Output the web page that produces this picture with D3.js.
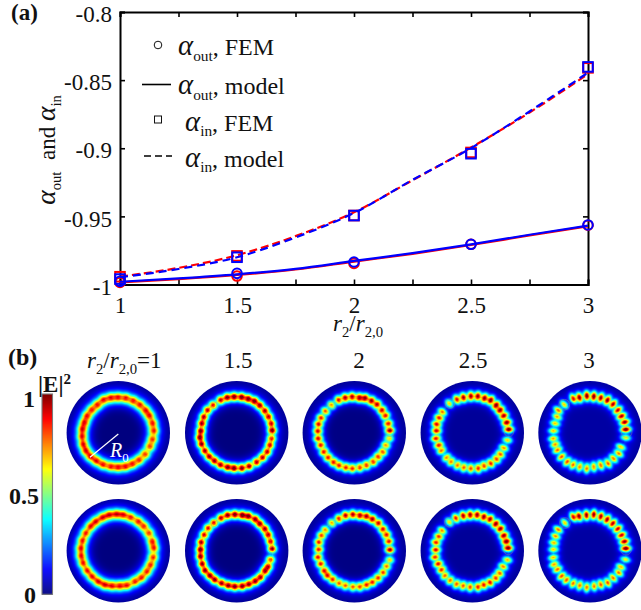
<!DOCTYPE html>
<html>
<head>
<meta charset="utf-8">
<script src="https://cdn.jsdelivr.net/npm/d3@7"></script>
<style>
body { margin: 0; background: #fff; }
svg { display: block; font-family: "Liberation Serif", serif; }
</style>
</head>
<body>
<script>
// panel (a) values
var rModel = [1, 1.25, 1.5, 1.75, 2, 2.25, 2.5, 2.75, 3];
var rFem = [1, 1.5, 2, 2.5, 3];
var outModelRed = [-0.9984, -0.996, -0.993, -0.989, -0.9832, -0.9775, -0.971, -0.964, -0.9572];
var outModelBlue = [-0.998, -0.9955, -0.9925, -0.9885, -0.9827, -0.977, -0.9705, -0.9635, -0.9568];
var inModelRed = [-0.9942, -0.9878, -0.9785, -0.9645, -0.947, -0.9235, -0.8995, -0.8738, -0.8455];
var inModelBlue = [-0.9947, -0.9886, -0.98, -0.9655, -0.9475, -0.9232, -0.8999, -0.873, -0.8445];
var outFemRed = [-0.9985, -0.9938, -0.9845, -0.9705, -0.9565];
var outFemBlue = [-0.9977, -0.9918, -0.9835, -0.9705, -0.9563];
var inFemRed = [-0.9943, -0.979, -0.9494, -0.9031, -0.841];
var inFemBlue = [-0.996, -0.98, -0.9494, -0.904, -0.8403];
var xTickValues = [1, 1.25, 1.5, 1.75, 2, 2.25, 2.5, 2.75, 3];
var xTickLabels = {1: "1", 1.5: "1.5", 2: "2", 2.5: "2.5", 3: "3"};
var yTickValues = [-1, -0.95, -0.9, -0.85, -0.8];
var yTickLabels = ["-1", "-0.95", "-0.9", "-0.85", "-0.8"];

// panel (b) values: bright spots of each |E|^2 map as [x, y, peak], in the map's own units
var columnTitles = ["1.5", "2", "2.5", "3"];
var barTicks = [0, 0.5, 1];
var mapCentreX = [355, 170, 523, 187, 540];
var mapCentreYTop = [250, 247, 247, 247, 247];
var mapCentreYBottom = [212, 210, 210, 212, 213];

var spotsTop1 = [[333,146,1],[355,145,1],[378,147,1],[400,155,1],[420,167,1],[437,183,.98],[449,200,.98],[458,222,1],[462,245,1],[458,270,.98],[450,292,.98],[436,315,1],[418,332,1],[398,344,1],[377,352,1],[355,354,1],[333,352,1],[310,346,1],[290,335,1],[272,322,1],[258,305,.98],[250,285,.98],[247,262,1],[248,240,1],[254,220,.98],[262,200,.98],[276,182,.98],[293,167,1],[311,152,1]];
var spotsTop2 = [[163,140,.98],[185,141,.98],[205,146,.95],[224,153,.95],[240,166,.92],[255,182,.9],[266,200,.88],[274,220,.85],[277,241,1],[275,265,.8],[270,285,.85],[262,305,.88],[248,322,.9],[230,336,.92],[208,348,.95],[186,354,.98],[163,354,.98],[143,351,.95],[122,344,.92],[104,332,.92],[88,319,.9],[75,302,.9],[65,282,.92],[60,262,.95],[63,242,.95],[66,220,.92],[72,200,.9],[83,180,.88],[100,165,.85],[122,150,.9],[142,142,.95]];
var spotsTop3 = [[517,140,.92],[538,143,.92],[556,144,.92],[575,152,.92],[592,163,.9],[606,180,.88],[617,197,.85],[625,220,.85],[630,241,1],[628,265,.62],[618,285,.72],[609,305,.78],[595,320,.82],[580,335,.82],[560,345,.82],[540,352,.8],[518,355,.8],[498,352,.8],[478,346,.8],[461,336,.82],[445,322,.82],[432,305,.84],[423,285,.84],[415,265,.86],[414,243,.86],[416,222,.84],[424,203,.82],[437,183,.78],[455,165,.72],[476,150,.86],[496,143,.92]];
var spotsTop4 = [[183,138,.92],[204,138,.92],[224,144,.92],[243,150,.95],[259,165,.95],[271,180,.92],[282,197,.9],[291,217,.95],[297,238,1],[293,270,.62],[282,293,.7],[272,312,.72],[260,327,.75],[243,340,.8],[223,347,.75],[205,355,.78],[183,355,.75],[162,352,.72],[143,345,.7],[124,335,.68],[110,322,.68],[95,302,.7],[87,285,.8],[78,265,.82],[80,242,.86],[80,222,.82],[88,203,.8],[98,185,.72],[118,160,.62],[141,148,.85],[161,142,.92]];
var spotsTop5 = [[490,145,.82],[509,142,.92],[531,137,.95],[552,139,.95],[573,143,.9],[593,150,.92],[610,162,.88],[624,180,.85],[635,198,.88],[645,216,.9],[648,238,1],[648,263,.55],[633,290,.62],[627,310,.68],[611,325,.7],[595,340,.72],[573,345,.72],[552,350,.68],[531,355,.68],[510,350,.66],[490,344,.68],[472,335,.72],[455,320,.72],[443,300,.68],[436,283,.62],[430,265,.62],[431,242,.6],[436,220,.6],[442,200,.62],[445,180,.7],[463,163,.6]];
var spotsBottom1 = [[350,103,1],[371,105,1],[393,113,1],[415,125,1],[432,140,.98],[447,160,.98],[457,184,1],[462,205,1],[460,232,1],[452,255,.98],[441,275,.98],[425,293,1],[405,305,1],[382,316,1],[360,318,1],[337,318,1],[315,315,1],[295,305,1],[277,290,1],[262,272,1],[250,250,.98],[244,228,.98],[243,205,1],[248,182,.98],[258,160,.98],[272,140,1],[288,125,1],[308,113,1],[328,105,1]];
var spotsBottom2 = [[165,102,.98],[187,104,.98],[206,107,.95],[226,116,.92],[240,130,.92],[255,145,.9],[265,163,.88],[272,183,.85],[277,205,1],[272,237,.8],[265,258,.85],[255,272,.88],[242,290,.9],[226,302,.92],[207,311,.92],[187,317,.95],[165,318,.95],[145,315,.92],[125,308,.92],[105,298,.92],[90,285,.92],[75,270,.92],[67,250,.92],[62,228,.95],[62,207,.98],[64,185,.92],[73,163,.88],[85,143,.85],[102,127,.85],[123,113,.92],[143,104,.95]];
var spotsBottom3 = [[519,102,.92],[540,105,.92],[560,107,.9],[578,116,.92],[596,128,.88],[609,146,.85],[620,163,.82],[627,183,.85],[630,208,1],[630,238,.62],[620,257,.72],[610,276,.78],[595,292,.8],[578,305,.8],[560,313,.8],[540,319,.76],[519,319,.74],[497,315,.74],[478,308,.74],[459,297,.8],[443,285,.82],[433,270,.82],[423,250,.84],[414,230,.84],[417,207,.84],[417,185,.82],[425,165,.78],[437,148,.72],[456,128,.7],[477,115,.85],[497,105,.92]];
var spotsBottom4 = [[181,105,.92],[202,105,.92],[222,111,.92],[241,118,.9],[258,132,.95],[272,147,.92],[282,167,.92],[290,185,.95],[295,205,1],[293,240,.65],[280,260,.72],[270,280,.72],[258,295,.75],[241,308,.82],[222,315,.78],[204,322,.78],[181,322,.75],[160,318,.72],[140,313,.72],[121,302,.7],[105,288,.7],[95,270,.78],[85,252,.82],[75,232,.78],[78,210,.85],[78,188,.78],[87,170,.76],[97,152,.7],[118,127,.6],[138,115,.82],[160,108,.92]];
var spotsBottom5 = [[490,112,.82],[508,110,.9],[530,107,.92],[552,105,.92],[573,111,.9],[592,120,.9],[609,132,.88],[624,148,.85],[635,167,.85],[644,186,.9],[648,207,1],[647,240,.55],[633,262,.62],[627,280,.68],[610,295,.7],[594,310,.72],[573,315,.72],[553,320,.68],[531,324,.68],[510,318,.68],[490,312,.68],[470,302,.7],[455,290,.72],[443,270,.68],[432,255,.62],[430,234,.6],[431,210,.58],[432,190,.6],[437,170,.65],[445,150,.7],[465,130,.6]];

// marks left on the maps by the two small scatterers: [x, y, radius] in map units
var ringsTop = [[], [[102,165,10],[277,241,10]], [[455,165,12],[630,247,12]], [[120,160,14],[297,245,14]], [[463,163,16],[650,245,16]]];
var ringsBottom = [[], [[102,127,10],[277,208,10]], [[456,128,12],[630,210,12]], [[118,127,14],[295,210,14]], [[465,130,16],[648,210,16]]];

// how tight the spots are and how much glow is around them, one entry per column
var radialWidth = [10, 9, 9.5, 10, 10.5];
var tangentWidth = [9, 7.5, 7, 6.5, 6];
var coreLevel = [0.56, 0.78, 0.8, 0.84, 0.88];
var haloWidth = [19, 17, 16, 16, 16];
var haloLevel = [0.13, 0.12, 0.11, 0.1, 0.09];
var glowOuter = [0.05, 0.05, 0.055, 0.06, 0.07];
var glowInner = [0, 0, 0.005, 0.025, 0.035];

var width = 641, height = 610;
var left = 120, right = 588, top_ = 12, bottom = 284.5;

var svg = d3.select("body").append("svg")
    .attr("width", width)
    .attr("height", height);

// writes a label made of pieces: plain, italic, greek, subscript, bold
function richText(g, parts, size) {
    var text = g.append("text").attr("font-size", size).attr("fill", g.attr("data-fill") || "#111");
    var shift = 0;
    parts.forEach(function(p){
        var kind = p[1] || "";
        var want = kind === "sub" ? size * 0.24 : 0;
        var t = text.append("tspan")
            .attr("dy", want - shift)
            .attr("font-size", kind === "sub" ? size * 0.64 : kind === "greek" ? size * 1.2 : size)
            .text(p[0]);
        if (kind === "i" || kind === "greek") t.attr("font-style", "italic");
        if (kind === "b") t.attr("font-weight", "bold");
        shift = want;
    });
    return text;
}

function place(x, y, rotate) {
    return svg.append("g").attr("transform", "translate(" + x + "," + y + ")" + (rotate ? " rotate(" + rotate + ")" : ""));
}

// ---------- panel (a)
var xScale = d3.scaleLinear().domain([1, 3]).range([left, right]);
var yScale = d3.scaleLinear().domain([-1, -0.8]).range([bottom, top_]);

var xAxis = d3.axisBottom(xScale).tickValues(xTickValues).tickSize(-5).tickPadding(12)
    .tickFormat(function(d){ return xTickLabels[d] || ""; });
var xAxisTop = d3.axisTop(xScale).tickValues(xTickValues).tickSize(-5).tickFormat("");
var yAxis = d3.axisLeft(yScale).tickValues(yTickValues).tickSize(-5).tickPadding(8)
    .tickFormat(function(d, i){ return yTickLabels[i]; });
var yAxisRight = d3.axisRight(yScale).tickValues(yTickValues).tickSize(-5).tickFormat("");

function styleAxis(g) {
    g.selectAll("path").attr("stroke", "#000").attr("stroke-width", 2);
    g.selectAll("line").attr("stroke", "#000").attr("stroke-width", 1.6);
    g.selectAll("text").attr("font-family", "Liberation Serif").attr("font-size", 23).attr("fill", "#111");
}
svg.append("g").attr("transform", "translate(0," + bottom + ")").call(xAxis).call(styleAxis);
svg.append("g").attr("transform", "translate(0," + top_ + ")").call(xAxisTop).call(styleAxis);
var yG = svg.append("g").attr("transform", "translate(" + left + ",0)").call(yAxis).call(styleAxis);
yG.selectAll("text").attr("dy", "0.42em");
svg.append("g").attr("transform", "translate(" + right + ",0)").call(yAxisRight).call(styleAxis);

var modelLine = d3.line()
    .x(function(d){ return xScale(d[0]); })
    .y(function(d){ return yScale(d[1]); })
    .curve(d3.curveMonotoneX);

function drawModel(values, color, dash) {
    svg.append("path")
        .datum(d3.zip(rModel, values))
        .attr("d", modelLine)
        .attr("fill", "none")
        .attr("stroke", color)
        .attr("stroke-width", 2.2)
        .attr("stroke-dasharray", dash);
}
function drawCircles(values, color) {
    svg.append("g").selectAll("circle")
        .data(d3.zip(rFem, values))
        .enter().append("circle")
        .attr("cx", function(d){ return xScale(d[0]); })
        .attr("cy", function(d){ return yScale(d[1]); })
        .attr("r", 4.8)
        .attr("fill", "none")
        .attr("stroke", color)
        .attr("stroke-width", 2);
}
function drawSquares(values, color) {
    svg.append("g").selectAll("rect")
        .data(d3.zip(rFem, values))
        .enter().append("rect")
        .attr("x", function(d){ return xScale(d[0]) - 4.8; })
        .attr("y", function(d){ return yScale(d[1]) - 4.8; })
        .attr("width", 9.6)
        .attr("height", 9.6)
        .attr("fill", "none")
        .attr("stroke", color)
        .attr("stroke-width", 2);
}
drawModel(outModelRed, "#ff0000", null);
drawModel(inModelRed, "#ff0000", "8,4");
drawCircles(outFemRed, "#ff0000");
drawSquares(inFemRed, "#ff0000");
drawModel(outModelBlue, "#0000ff", null);
drawModel(inModelBlue, "#0000ff", "8,5");
drawCircles(outFemBlue, "#0000ff");
drawSquares(inFemBlue, "#0000ff");

// legend
svg.append("circle").attr("cx", 158).attr("cy", 45).attr("r", 3.8)
    .attr("fill", "none").attr("stroke", "#111").attr("stroke-width", 1);
svg.append("line").attr("x1", 142).attr("x2", 171).attr("y1", 84.5).attr("y2", 84.5)
    .attr("stroke", "#000").attr("stroke-width", 1.6);
svg.append("rect").attr("x", 154.5).attr("y", 116).attr("width", 7).attr("height", 7)
    .attr("fill", "none").attr("stroke", "#111").attr("stroke-width", 1);
svg.append("line").attr("x1", 144).attr("x2", 172).attr("y1", 156).attr("y2", 156)
    .attr("stroke", "#000").attr("stroke-width", 1.6).attr("stroke-dasharray", "7,4");

richText(place(178, 55), [["α", "greek"], ["out", "sub"], [", FEM"]], 24);
richText(place(178, 94), [["α", "greek"], ["out", "sub"], [", model"]], 24);
richText(place(185, 130.5), [["α", "greek"], ["in", "sub"], [", FEM"]], 24);
richText(place(185, 166.5), [["α", "greek"], ["in", "sub"], [", model"]], 24);

richText(place(55, 150, -90), [["α", "greek"], ["out", "sub"], ["\u00a0\u00a0and\u00a0"], ["α", "greek"], ["in", "sub"]], 23)
    .attr("text-anchor", "middle");
richText(place(333, 331), [["r", "i"], ["2", "sub"], ["/"], ["r", "i"], ["2,0", "sub"]], 23);

richText(place(11, 20), [["(a)", "b"]], 23);
richText(place(8, 365), [["(b)", "b"]], 24);

// ---------- panel (b)
var jet = d3.scaleLinear()
    .domain([0, 0.125, 0.375, 0.625, 0.875, 1])
    .range(["#00007f", "#0000ff", "#00ffff", "#ffff00", "#ff0000", "#7f0000"])
    .clamp(true);

var columnX = [118.3, 236.7, 354.3, 472.3, 590];
var rowY = [432.7, 550.7];
var mapRadius = 51.7;
var defs = svg.append("defs");

function fieldImage(spots, col, cx, cy) {
    var size = Math.round(mapRadius * 2) + 2;
    var canvas = document.createElement("canvas");
    canvas.width = size;
    canvas.height = size;
    var ctx = canvas.getContext("2d");
    var img = ctx.createImageData(size, size);
    // map units to canvas pixels
    var xs = d3.scaleLinear().domain([cx - 155, cx + 155]).range([1, size - 1]);
    var ys = d3.scaleLinear().domain([cy - 155, cy + 155]).range([1, size - 1]);
    var rad2 = 2 * radialWidth[col] * radialWidth[col], tan2 = 2 * tangentWidth[col] * tangentWidth[col];
    var h2 = 2 * haloWidth[col] * haloWidth[col];
    for (var py = 0; py < size; py++) {
        var y = ys.invert(py + 0.5);
        for (var px = 0; px < size; px++) {
            var x = xs.invert(px + 0.5);
            var v = 0;
            spots.forEach(function(s){
                var dx = x - s[0], dy = y - s[1];
                // split the offset into along-radius and across-radius parts
                var sr = Math.hypot(s[0] - cx, s[1] - cy);
                var ux = (s[0] - cx) / sr, uy = (s[1] - cy) / sr;
                var a = dx * ux + dy * uy, b = -dx * uy + dy * ux;
                v += s[2] * (coreLevel[col] * Math.exp(-a * a / rad2 - b * b / tan2)
                    + haloLevel[col] * Math.exp(-(dx * dx + dy * dy) / h2));
            });
            var r = Math.sqrt((x - cx) * (x - cx) + (y - cy) * (y - cy));
            v += r > 107 ? glowOuter[col] * (1 - (r - 107) / 90) : glowInner[col];
            var rgb = d3.rgb(jet(v));
            var k = (py * size + px) * 4;
            img.data[k] = rgb.r;
            img.data[k + 1] = rgb.g;
            img.data[k + 2] = rgb.b;
            img.data[k + 3] = 255;
        }
    }
    ctx.putImageData(img, 0, 0);
    return canvas.toDataURL();
}

function drawMap(spots, rings, col, row, cy) {
    var cx = mapCentreX[col], px = columnX[col], py = rowY[row];
    var id = "clip" + col + "_" + row;
    defs.append("clipPath").attr("id", id)
        .append("circle").attr("cx", px).attr("cy", py).attr("r", mapRadius);
    var g = svg.append("g").attr("clip-path", "url(#" + id + ")");
    var s = Math.round(mapRadius * 2) + 2;
    g.append("image")
        .attr("x", px - mapRadius - 1)
        .attr("y", py - mapRadius - 1)
        .attr("width", s)
        .attr("height", s)
        .attr("href", fieldImage(spots, col, cx, cy));
    var xs = d3.scaleLinear().domain([cx - 155, cx + 155]).range([px - mapRadius, px + mapRadius]);
    var ys = d3.scaleLinear().domain([cy - 155, cy + 155]).range([py - mapRadius, py + mapRadius]);
    g.selectAll("circle.ring")
        .data(rings)
        .enter().append("circle")
        .attr("class", "ring")
        .attr("cx", function(d){ return xs(d[0]); })
        .attr("cy", function(d){ return ys(d[1]); })
        .attr("r", function(d){ return d[2] / 3; })
        .attr("fill", "none")
        .attr("stroke", "#a8a85a")
        .attr("stroke-opacity", 0.45)
        .attr("stroke-width", 0.8);
}

[spotsTop1, spotsTop2, spotsTop3, spotsTop4, spotsTop5].forEach(function(spots, i){
    drawMap(spots, ringsTop[i], i, 0, mapCentreYTop[i]);
});
[spotsBottom1, spotsBottom2, spotsBottom3, spotsBottom4, spotsBottom5].forEach(function(spots, i){
    drawMap(spots, ringsBottom[i], i, 1, mapCentreYBottom[i]);
});

// R0 marker on the first map
svg.append("line")
    .attr("x1", 118.3).attr("y1", 434).attr("x2", 90).attr("y2", 457.3)
    .attr("stroke", "#fff").attr("stroke-width", 1.2);
var r0 = place(110, 457).attr("data-fill", "#fff");
richText(r0, [["R", "i"], ["0", "sub"]], 20);

// column titles
richText(place(87, 368), [["r", "i"], ["2", "sub"], ["/"], ["r", "i"], ["2,0", "sub"], ["=1"]], 23);
columnTitles.forEach(function(t, i){
    svg.append("text")
        .attr("x", [238, 359, 473, 589][i])
        .attr("y", 368)
        .attr("text-anchor", "middle")
        .attr("font-size", 23)
        .attr("fill", "#111")
        .text(t);
});

// colour bar
var barX = 42, barW = 10.5;
var barY = d3.scaleLinear().domain([0, 1]).range([594.3, 394]);
svg.append("g").selectAll("rect")
    .data(d3.range(0, 1, 0.005))
    .enter().append("rect")
    .attr("x", barX)
    .attr("y", function(d){ return barY(d + 0.005); })
    .attr("width", barW)
    .attr("height", function(d){ return barY(d) - barY(d + 0.005) + 0.5; })
    .attr("fill", function(d){ return jet(d); });
svg.append("rect")
    .attr("x", barX).attr("y", barY(1)).attr("width", barW).attr("height", barY(0) - barY(1))
    .attr("fill", "none").attr("stroke", "#7a7a7a").attr("stroke-width", 1.1);

svg.append("g").selectAll("text")
    .data(barTicks)
    .enter().append("text")
    .attr("x", function(d, i){ return [36, 39, 35][i]; })
    .attr("y", function(d, i){ return [603, 504, 407][i]; })
    .attr("text-anchor", "end")
    .attr("font-size", 24)
    .attr("font-weight", "bold")
    .attr("fill", "#111")
    .text(function(d){ return d; });

var barTitle = richText(place(38, 392), [["|"], ["E", "b"], ["|"]], 23);
barTitle.attr("font-weight", "bold");
barTitle.append("tspan").attr("dy", -8).attr("font-size", 15).attr("font-weight", "bold").text("2");
</script>
</body>
</html>
